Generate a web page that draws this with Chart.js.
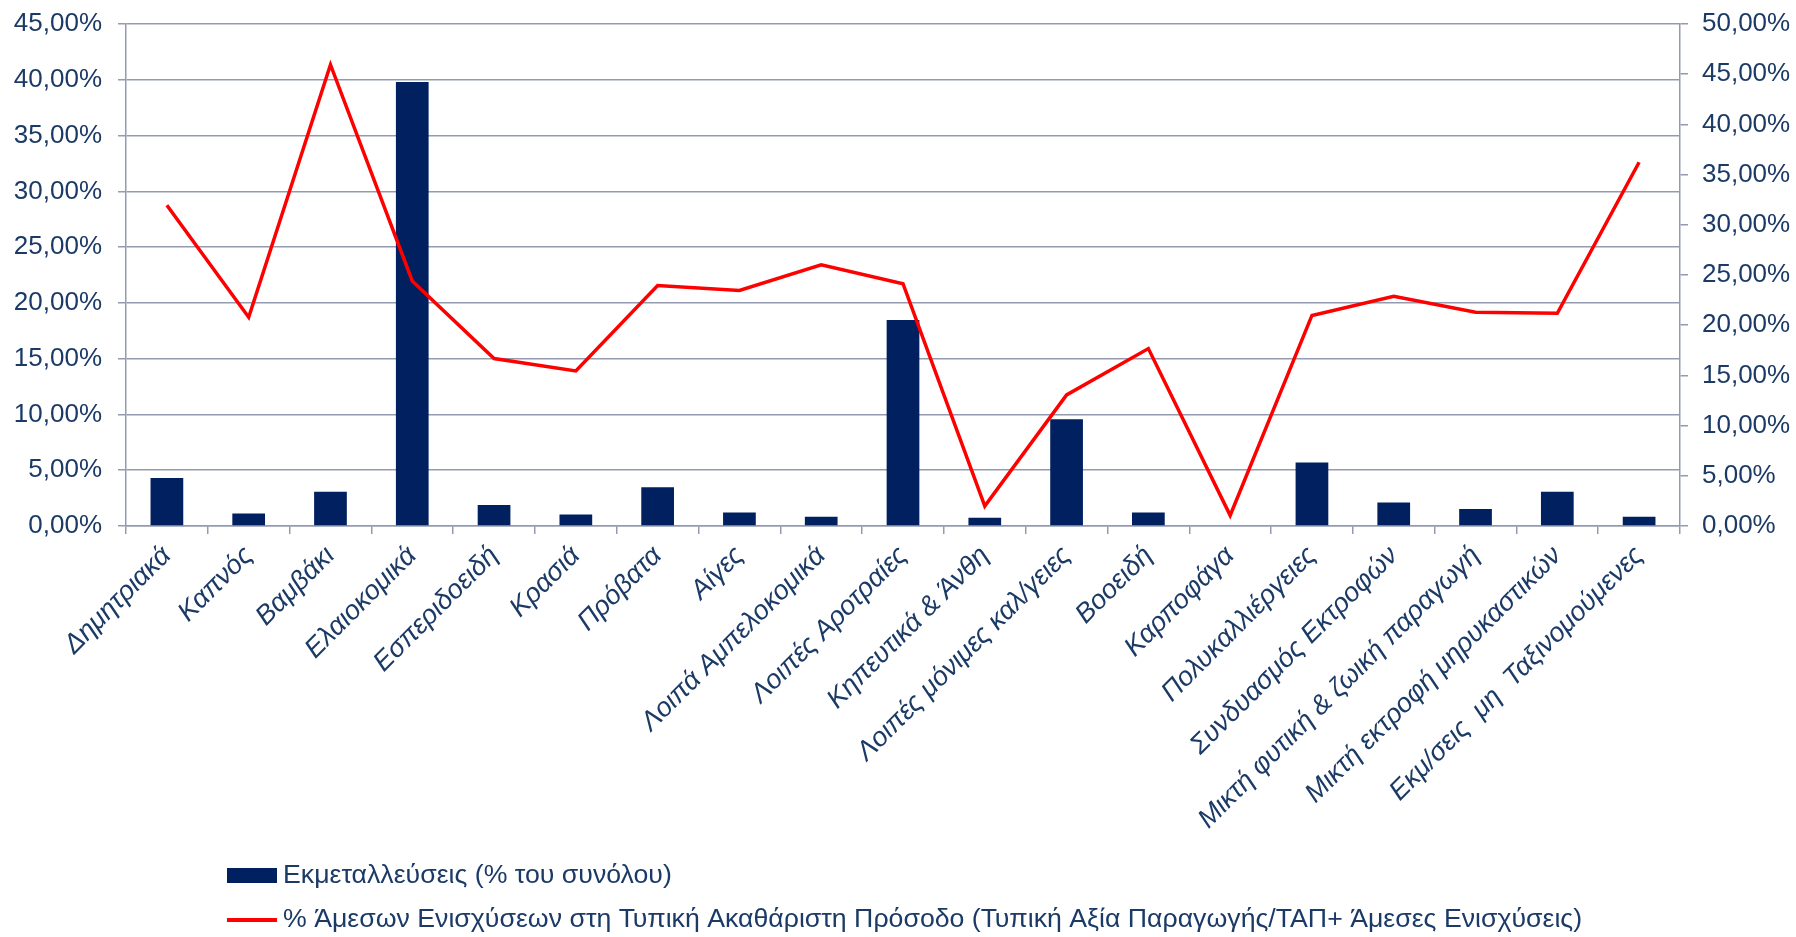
<!DOCTYPE html>
<html>
<head>
<meta charset="utf-8">
<script src="https://cdn.jsdelivr.net/npm/chart.js@4"></script>
<style>
  html, body { margin: 0; padding: 0; background: #fff; }
  #wrap { width: 1796px; height: 937px; position: relative; }
</style>
</head>
<body>
<div id="wrap"><canvas id="chart" width="1796" height="937"></canvas></div>
<script>
// Κατηγορίες εκμεταλλεύσεων (άξονας X)
const CATEGORIES = [
  'Δημητριακά', 'Καπνός', 'Βαμβάκι', 'Ελαιοκομικά', 'Εσπεριδοειδή', 'Κρασιά', 'Πρόβατα', 'Αίγες',
  'Λοιπά Αμπελοκομικά', 'Λοιπές Αροτραίες', 'Κηπευτικά & Άνθη', 'Λοιπές μόνιμες καλ/γειες', 'Βοοειδή',
  'Καρποφάγα', 'Πολυκαλλιέργειες', 'Συνδυασμός Εκτροφών', 'Μικτή φυτική & ζωική παραγωγή',
  'Μικτή εκτροφή μηρυκαστικών', 'Εκμ/σεις  μη  Ταξινομούμενες',
];

// Ράβδοι: % των εκμεταλλεύσεων (αριστερός άξονας)
const FARMS_LABEL = 'Εκμεταλλεύσεις (% του συνόλου)';
const FARMS_PCT = [4.31, 1.12, 3.07, 39.8, 1.88, 1.02, 3.48, 1.21, 0.83, 18.47, 0.73, 9.58, 1.21, 0, 5.69, 2.11, 1.53, 3.07, 0.83];

// Γραμμή: % άμεσων ενισχύσεων (δεξιός άξονας)
const AID_LABEL = '% Άμεσων Ενισχύσεων στη Τυπική Ακαθάριστη Πρόσοδο (Τυπική Αξία Παραγωγής/ΤΑΠ+ Άμεσες Ενισχύσεις)';
const AID_PCT = [31.94, 20.8, 45.95, 24.41, 16.68, 15.44, 23.95, 23.46, 26.01, 24.13, 1.99, 13.06, 17.67, 1.06, 20.97, 22.89, 21.29, 21.19, 36.23];

const NAVY = '#002060';
const RED = '#ff0000';
const TXT = '#1b3a66';
const GRID = '#949bb0';
const FONT = '"Liberation Sans", Arial, sans-serif';

const pct = (v) => v.toFixed(2).replace('.', ',') + '%';

// Υπόμνημα σε δύο γραμμές, αριστερά κάτω (όπως στο πρωτότυπο)
const stackedLegend = {
  id: 'stackedLegend',
  afterDraw(chart) {
    const { ctx } = chart;
    const bar = chart.data.datasets.find((d) => d.type === 'bar');
    const line = chart.data.datasets.find((d) => d.type === 'line');
    ctx.save();
    ctx.font = `26.7px ${FONT}`;
    ctx.textBaseline = 'middle';
    ctx.textAlign = 'left';
    ctx.fillStyle = bar.backgroundColor;
    ctx.fillRect(227, 868, 50, 15);
    ctx.fillStyle = TXT;
    ctx.fillText(bar.label, 283, 876);
    ctx.strokeStyle = line.borderColor;
    ctx.lineWidth = 4;
    ctx.beginPath();
    ctx.moveTo(227, 920);
    ctx.lineTo(277, 920);
    ctx.stroke();
    ctx.fillText(line.label, 283, 920);
    ctx.restore();
  },
};

// οι κάθετοι άξονες να μη σπρώχνουν την περιοχή σχεδίασης προς τα μέσα
const fixVertical = (w) => (s) => { s.width = w; s.paddingTop = 0; s.paddingBottom = 0; };

new Chart(document.getElementById('chart'), {
  data: {
    labels: CATEGORIES,
    datasets: [
      {
        type: 'line', label: AID_LABEL, data: AID_PCT, yAxisID: 'y1',
        borderColor: RED, backgroundColor: RED, borderWidth: 3.5,
        pointRadius: 0, tension: 0, order: 0,
      },
      {
        type: 'bar', label: FARMS_LABEL, data: FARMS_PCT, yAxisID: 'y',
        backgroundColor: NAVY, barPercentage: 0.4, categoryPercentage: 1, order: 1,
      },
    ],
  },
  options: {
    responsive: false,
    animation: false,
    layout: { padding: { top: 24, bottom: 0, left: 0, right: 0 } },
    scales: {
      x: {
        offset: true,
        grid: { display: true, drawOnChartArea: false, offset: true, color: GRID, lineWidth: 1.5, tickLength: 8 },
        border: { color: GRID, width: 1.5 },
        ticks: {
          autoSkip: false, minRotation: 45, maxRotation: 45, padding: 6,
          color: TXT, font: { family: FONT, size: 27, style: 'italic' },
        },
        afterFit: (s) => { s.height = 937 - 526; },
      },
      y: {
        position: 'left', min: 0, max: 45,
        grid: { color: GRID, lineWidth: 1.5, tickLength: 8 },
        border: { color: GRID, width: 1.5 },
        ticks: { stepSize: 5, padding: 16, color: TXT, font: { family: FONT, size: 26 }, callback: (v) => pct(v) },
        afterFit: fixVertical(126),
      },
      y1: {
        position: 'right', min: 0, max: 50,
        grid: { drawOnChartArea: false, color: GRID, lineWidth: 1.5, tickLength: 8 },
        border: { color: GRID, width: 1.5 },
        ticks: { stepSize: 5, padding: 14, color: TXT, font: { family: FONT, size: 26 }, callback: (v) => pct(v) },
        afterFit: fixVertical(1796 - 1680),
      },
    },
    plugins: {
      legend: { display: false },
      tooltip: { enabled: false },
    },
  },
  plugins: [stackedLegend],
});
</script>
</body>
</html>
